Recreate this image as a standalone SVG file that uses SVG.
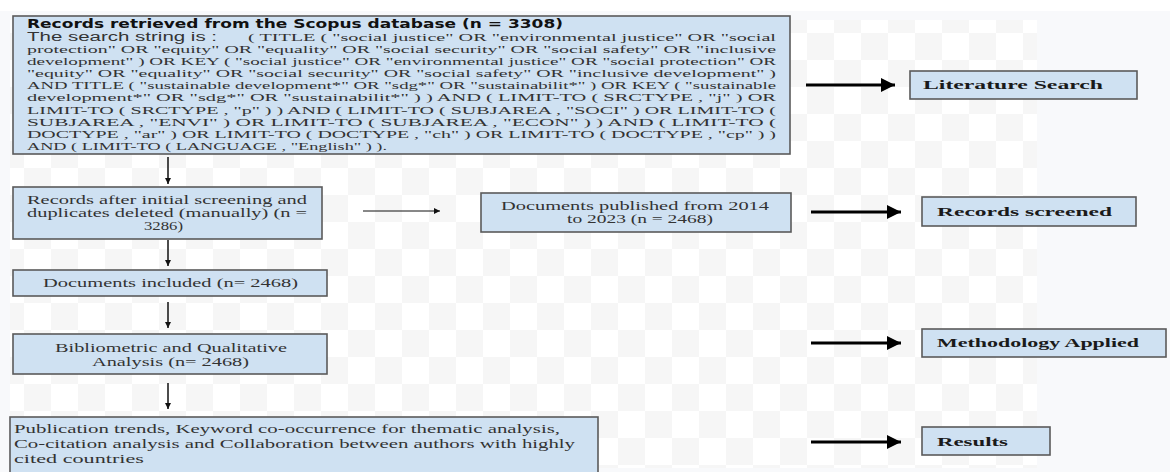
<svg xmlns="http://www.w3.org/2000/svg" width="1170" height="472" viewBox="0 0 1170 472">
<defs>
<pattern id="chk" x="24" y="6" width="54" height="54" patternUnits="userSpaceOnUse">
<rect width="54" height="54" fill="#ffffff"/>
<rect width="27" height="27" fill="#f6f6f6"/>
<rect x="27" y="27" width="27" height="27" fill="#f6f6f6"/>
</pattern>
<marker id="thin" viewBox="0 0 10 10" refX="10" refY="5" markerWidth="8" markerHeight="6" markerUnits="userSpaceOnUse" orient="auto">
<path d="M0,0 L10,5 L0,10 Z" fill="#111"/>
</marker>
<marker id="thick" viewBox="0 0 10 10" refX="10" refY="5" markerWidth="34" markerHeight="14" markerUnits="userSpaceOnUse" orient="auto">
<path d="M0,0 L10,5 L0,10 Z" fill="#000"/>
</marker>
</defs>
<style>
.box{fill:#cfe1f2;stroke:#5a5a5a;stroke-width:1.6}
.t{font-family:"Liberation Serif","Times New Roman",serif;font-size:12.5px;fill:#333}
.q{font-family:"Liberation Serif","Times New Roman",serif;font-size:11.3px;fill:#333}
.b{font-family:"Liberation Serif","Times New Roman",serif;font-size:13.5px;font-weight:bold;fill:#1a1a1a}
.h{font-family:"DejaVu Sans","Liberation Sans",sans-serif;font-size:11.5px;font-weight:bold;fill:#111}
.s{font-family:"Liberation Sans",Arial,sans-serif;font-size:12px;fill:#333}
.ln{stroke:#111;stroke-width:1.5;fill:none}
.tk{stroke:#000;stroke-width:3;fill:none}
</style>
<rect width="1170" height="472" fill="#ffffff"/>
<rect x="0" y="11" width="1170" height="461" fill="#f8f9fb"/>
<rect x="10" y="20" width="1027" height="448" fill="url(#chk)"/>

<g id="connectors">
<line class="ln" x1="168" y1="157" x2="168" y2="184" marker-end="url(#thin)"/>
<line class="ln" x1="168" y1="240" x2="168" y2="266" marker-end="url(#thin)"/>
<line class="ln" x1="168" y1="302" x2="168" y2="328" marker-end="url(#thin)"/>
<line class="ln" x1="168" y1="383" x2="168" y2="409" marker-end="url(#thin)"/>
<line x1="363" y1="211" x2="440" y2="211" stroke="#111" stroke-width="1" marker-end="url(#thin)"/>
<line class="tk" x1="806" y1="85" x2="895" y2="85" marker-end="url(#thick)"/>
<line class="tk" x1="811" y1="212" x2="901" y2="212" marker-end="url(#thick)"/>
<line class="tk" x1="811" y1="343" x2="901" y2="343" marker-end="url(#thick)"/>
<line class="tk" x1="811" y1="442" x2="901" y2="442" marker-end="url(#thick)"/>
</g>

<g id="records-retrieved">
<rect class="box" x="13" y="16" width="777" height="138"/>
<text class="h" x="27" y="28" textLength="536" lengthAdjust="spacingAndGlyphs">Records retrieved from the Scopus database (n = 3308)</text>
<text class="s" x="27" y="40.5" textLength="190" lengthAdjust="spacingAndGlyphs">The search string is :</text>
<text class="q" x="248" y="40.5" textLength="528" lengthAdjust="spacingAndGlyphs">( TITLE ( "social justice" OR "environmental justice" OR "social</text>
<text class="q" x="27" y="52.7" textLength="749" lengthAdjust="spacingAndGlyphs">protection" OR "equity" OR "equality" OR "social security" OR "social safety" OR "inclusive</text>
<text class="q" x="27" y="64.9" textLength="749" lengthAdjust="spacingAndGlyphs">development" ) OR KEY ( "social justice" OR "environmental justice" OR "social protection" OR</text>
<text class="q" x="27" y="77" textLength="749" lengthAdjust="spacingAndGlyphs">"equity" OR "equality" OR "social security" OR "social safety" OR "inclusive development" )</text>
<text class="q" x="27" y="89.2" textLength="749" lengthAdjust="spacingAndGlyphs">AND TITLE ( "sustainable development*" OR "sdg*" OR "sustainabilit*" ) OR KEY ( "sustainable</text>
<text class="q" x="27" y="101.4" textLength="749" lengthAdjust="spacingAndGlyphs">development*" OR "sdg*" OR "sustainabilit*" ) ) AND ( LIMIT-TO ( SRCTYPE , "j" ) OR</text>
<text class="q" x="27" y="113.6" textLength="749" lengthAdjust="spacingAndGlyphs">LIMIT-TO ( SRCTYPE , "p" ) ) AND ( LIMIT-TO ( SUBJAREA , "SOCI" ) OR LIMIT-TO (</text>
<text class="q" x="27" y="125.8" textLength="749" lengthAdjust="spacingAndGlyphs">SUBJAREA , "ENVI" ) OR LIMIT-TO ( SUBJAREA , "ECON" ) ) AND ( LIMIT-TO (</text>
<text class="q" x="27" y="138" textLength="749" lengthAdjust="spacingAndGlyphs">DOCTYPE , "ar" ) OR LIMIT-TO ( DOCTYPE , "ch" ) OR LIMIT-TO ( DOCTYPE , "cp" ) )</text>
<text class="q" x="27" y="150" textLength="360" lengthAdjust="spacingAndGlyphs">AND ( LIMIT-TO ( LANGUAGE , "English" ) ).</text>
</g>

<g id="records-after-screening">
<rect class="box" x="13" y="187" width="309" height="52"/>
<text class="t" x="27" y="204" textLength="280" lengthAdjust="spacingAndGlyphs">Records after initial screening and</text>
<text class="t" x="27" y="217" textLength="280" lengthAdjust="spacingAndGlyphs">duplicates deleted (manually) (n =</text>
<text class="t" x="144" y="230" textLength="39" lengthAdjust="spacingAndGlyphs">3286)</text>
</g>

<g id="documents-published">
<rect class="box" x="481" y="193" width="310" height="39"/>
<text class="t" x="501" y="210" textLength="268" lengthAdjust="spacingAndGlyphs">Documents published from 2014</text>
<text class="t" x="567" y="222.7" textLength="146" lengthAdjust="spacingAndGlyphs">to 2023 (n = 2468)</text>
</g>

<g id="documents-included">
<rect class="box" x="13" y="270" width="314" height="26"/>
<text class="t" x="43" y="287" textLength="255" lengthAdjust="spacingAndGlyphs">Documents included (n= 2468)</text>
</g>

<g id="bibliometric-analysis">
<rect class="box" x="13" y="334" width="314" height="40"/>
<text class="t" x="55" y="351.7" textLength="232" lengthAdjust="spacingAndGlyphs">Bibliometric and Qualitative</text>
<text class="t" x="92" y="365.7" textLength="157" lengthAdjust="spacingAndGlyphs">Analysis (n= 2468)</text>
</g>

<g id="results-box">
<rect class="box" x="10" y="417" width="588" height="62"/>
<text class="t" x="14" y="433" textLength="546" lengthAdjust="spacingAndGlyphs">Publication trends, Keyword co-occurrence for thematic analysis,</text>
<text class="t" x="14" y="448" textLength="561" lengthAdjust="spacingAndGlyphs">Co-citation analysis and Collaboration between authors with highly</text>
<text class="t" x="14" y="463" textLength="130" lengthAdjust="spacingAndGlyphs">cited countries</text>
</g>

<g id="literature-search">
<rect class="box" x="910" y="71" width="227" height="28"/>
<text class="b" x="923" y="89" textLength="180" lengthAdjust="spacingAndGlyphs">Literature Search</text>
</g>

<g id="records-screened">
<rect class="box" x="922" y="197" width="214" height="29"/>
<text class="b" x="937" y="216" textLength="175" lengthAdjust="spacingAndGlyphs">Records screened</text>
</g>

<g id="methodology-applied">
<rect class="box" x="922" y="329" width="244" height="28"/>
<text class="b" x="937" y="347" textLength="202" lengthAdjust="spacingAndGlyphs">Methodology Applied</text>
</g>

<g id="results">
<rect class="box" x="922" y="427" width="128" height="28"/>
<text class="b" x="937" y="446" textLength="71" lengthAdjust="spacingAndGlyphs">Results</text>
</g>
</svg>
